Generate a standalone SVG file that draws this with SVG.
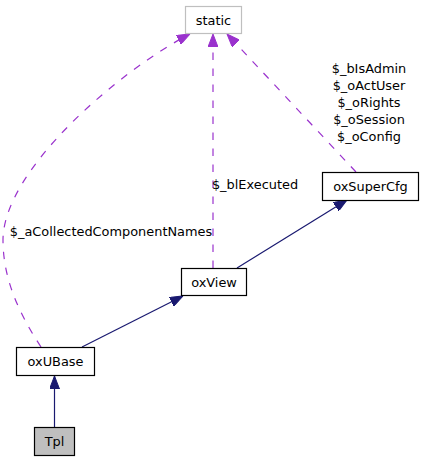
<svg xmlns="http://www.w3.org/2000/svg" width="424" height="461" viewBox="0 0 424 461">
<style>
text{font-family:"DejaVu Sans","Liberation Sans",sans-serif;font-size:12.9px;fill:#000;text-anchor:middle}
.lbl{text-anchor:middle}
.box{fill:#fff;stroke:#000;stroke-width:1.2}
.inh{fill:none;stroke:#191970;stroke-width:1.2}
.use{fill:none;stroke:#9a32cd;stroke-width:1.2;stroke-dasharray:7.5,8.5}
</style>
<defs>
<marker id="ah" markerUnits="userSpaceOnUse" viewBox="0 0 13 10" refX="13" refY="5" markerWidth="13" markerHeight="10" orient="auto">
<path d="M0,0 L13,5 L0,10 z" fill="#191970" stroke="#191970"/>
</marker>
<marker id="ap" markerUnits="userSpaceOnUse" viewBox="0 0 13 10" refX="13" refY="5" markerWidth="13" markerHeight="10" orient="auto">
<path d="M0,0 L13,5 L0,10 z" fill="#9a32cd" stroke="#9a32cd"/>
</marker>
</defs>
<rect width="424" height="461" fill="#fff"/>
<g id="connectors">
<path class="inh" d="M54.5,427 L54.5,376" marker-end="url(#ah)"/>
<path class="inh" d="M82,347 L183,296" marker-end="url(#ah)"/>
<path class="inh" d="M237,268 L347,200" marker-end="url(#ah)"/>
<path class="use" d="M41,347 C20,315 3,280 3,240 C3,170 120,70 190,34" marker-end="url(#ap)"/>
<path class="use" d="M213,268 L213,34" marker-end="url(#ap)"/>
<path class="use" d="M356,172 L227,34" marker-end="url(#ap)"/>
<text x="111" y="236">$_aCollectedComponentNames</text>
<text x="255" y="189">$_blExecuted</text>
<text x="369" y="73">$_bIsAdmin</text>
<text x="369" y="90">$_oActUser</text>
<text x="369" y="107">$_oRights</text>
<text x="369" y="124">$_oSession</text>
<text x="369" y="141">$_oConfig</text>
</g>
<g id="static">
<rect x="185.5" y="6.5" width="56" height="27" fill="#fff" stroke="#bfbfbf" stroke-width="1.2"/>
<text x="213.5" y="24.5">static</text>
</g>
<g id="oxSuperCfg">
<rect class="box" x="322.5" y="172.5" width="96" height="28"/>
<text x="370.5" y="191">oxSuperCfg</text>
</g>
<g id="oxView">
<rect class="box" x="181.5" y="268.5" width="65" height="27"/>
<text x="214" y="287">oxView</text>
</g>
<g id="oxUBase">
<rect class="box" x="16.5" y="347.5" width="78" height="28"/>
<text x="55.5" y="366">oxUBase</text>
</g>
<g id="Tpl">
<rect x="34.5" y="427.5" width="40" height="28" fill="#bfbfbf" stroke="#000" stroke-width="1.2"/>
<text x="54.5" y="446">Tpl</text>
</g>
</svg>
